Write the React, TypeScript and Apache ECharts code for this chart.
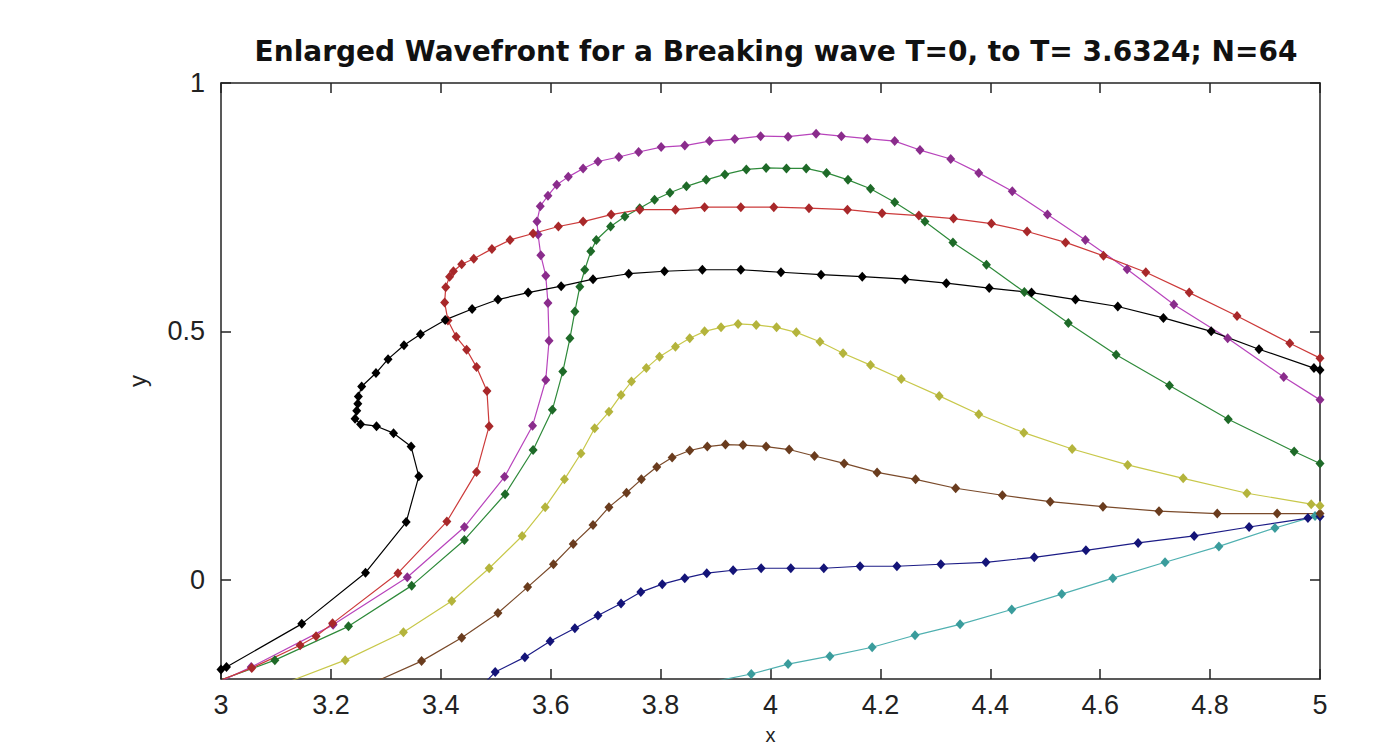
import React, { useEffect, useRef } from "react";
import * as echarts from "echarts";

type P = [number, number];

const titleText = "Enlarged Wavefront for a Breaking wave T=0, to T= 3.6324; N=64";
const xTicks = [3, 3.2, 3.4, 3.6, 3.8, 4, 4.2, 4.4, 4.6, 4.8, 5];
const yTicks = [0, 0.5, 1];

const cyan: P[] = [
  [3.897, -0.205], [3.965, -0.19], [4.032, -0.17], [4.108, -0.154], [4.185, -0.136],
  [4.263, -0.112], [4.345, -0.09], [4.439, -0.06], [4.53, -0.029], [4.623, 0.003],
  [4.718, 0.035], [4.816, 0.067], [4.918, 0.104], [4.991, 0.128],
];

const navy: P[] = [
  [3.484, -0.203], [3.499, -0.186], [3.553, -0.156], [3.599, -0.124], [3.644, -0.098],
  [3.686, -0.072], [3.728, -0.048], [3.764, -0.025], [3.803, -0.009], [3.844, 0.003],
  [3.884, 0.013], [3.932, 0.019], [3.983, 0.023], [4.037, 0.023], [4.097, 0.023],
  [4.163, 0.027], [4.23, 0.027], [4.31, 0.031], [4.392, 0.035], [4.48, 0.045],
  [4.574, 0.059], [4.669, 0.074], [4.771, 0.088], [4.871, 0.106], [4.978, 0.124],
  [5.0, 0.127],
];

const brown: P[] = [
  [3.286, -0.203], [3.365, -0.164], [3.438, -0.117], [3.504, -0.067], [3.558, -0.015],
  [3.605, 0.031], [3.641, 0.072], [3.677, 0.11], [3.706, 0.146], [3.738, 0.175],
  [3.765, 0.202], [3.793, 0.227], [3.821, 0.246], [3.853, 0.26], [3.885, 0.268],
  [3.918, 0.272], [3.95, 0.271], [3.992, 0.268], [4.034, 0.262], [4.08, 0.249],
  [4.134, 0.234], [4.194, 0.216], [4.264, 0.202], [4.337, 0.184], [4.422, 0.17],
  [4.509, 0.157], [4.605, 0.147], [4.707, 0.138], [4.813, 0.133], [4.922, 0.133],
  [5.0, 0.133],
];

const yellow: P[] = [
  [3.129, -0.203], [3.226, -0.162], [3.332, -0.106], [3.42, -0.043], [3.488, 0.023],
  [3.548, 0.088], [3.59, 0.146], [3.625, 0.202], [3.655, 0.254], [3.68, 0.305],
  [3.706, 0.338], [3.728, 0.372], [3.747, 0.399], [3.774, 0.426], [3.798, 0.449],
  [3.827, 0.469], [3.853, 0.486], [3.88, 0.5], [3.91, 0.508], [3.941, 0.515],
  [3.974, 0.513], [4.011, 0.508], [4.047, 0.498], [4.09, 0.479], [4.132, 0.456],
  [4.182, 0.432], [4.238, 0.404], [4.307, 0.37], [4.379, 0.333], [4.461, 0.296],
  [4.549, 0.263], [4.65, 0.231], [4.751, 0.204], [4.867, 0.174], [4.984, 0.152],
  [5.0, 0.149],
];

const green: P[] = [
  [3.002, -0.201], [3.098, -0.162], [3.232, -0.094], [3.347, -0.012], [3.443, 0.08],
  [3.517, 0.172], [3.568, 0.261], [3.603, 0.342], [3.622, 0.419], [3.635, 0.486],
  [3.644, 0.54], [3.653, 0.59], [3.662, 0.624], [3.673, 0.661], [3.683, 0.684],
  [3.709, 0.711], [3.735, 0.731], [3.762, 0.748], [3.789, 0.765], [3.817, 0.779],
  [3.847, 0.792], [3.883, 0.805], [3.917, 0.816], [3.956, 0.826], [3.992, 0.829],
  [4.029, 0.828], [4.065, 0.828], [4.102, 0.819], [4.141, 0.805], [4.182, 0.787],
  [4.226, 0.76], [4.281, 0.721], [4.332, 0.679], [4.393, 0.634], [4.462, 0.579],
  [4.542, 0.517], [4.629, 0.453], [4.726, 0.391], [4.833, 0.323], [4.953, 0.258],
  [5.0, 0.234],
];

const magenta: P[] = [
  [3.002, -0.203], [3.055, -0.176], [3.204, -0.091], [3.339, 0.005], [3.443, 0.106],
  [3.516, 0.207], [3.567, 0.31], [3.591, 0.402], [3.597, 0.481], [3.595, 0.557],
  [3.591, 0.612], [3.582, 0.653], [3.577, 0.695], [3.575, 0.721], [3.581, 0.752],
  [3.595, 0.773], [3.611, 0.795], [3.632, 0.811], [3.659, 0.828], [3.686, 0.842],
  [3.724, 0.851], [3.76, 0.861], [3.801, 0.871], [3.844, 0.874], [3.889, 0.883],
  [3.935, 0.887], [3.982, 0.893], [4.032, 0.892], [4.083, 0.898], [4.129, 0.893],
  [4.176, 0.888], [4.226, 0.883], [4.272, 0.865], [4.328, 0.847], [4.379, 0.819],
  [4.44, 0.782], [4.504, 0.735], [4.573, 0.684], [4.649, 0.625], [4.734, 0.554],
  [4.832, 0.486], [4.934, 0.408], [5.0, 0.362],
];

const red: P[] = [
  [3.002, -0.201], [3.056, -0.178], [3.144, -0.132], [3.173, -0.114], [3.203, -0.088],
  [3.322, 0.013], [3.411, 0.117], [3.465, 0.217], [3.488, 0.309], [3.484, 0.38],
  [3.465, 0.428], [3.447, 0.463], [3.428, 0.489], [3.413, 0.522], [3.407, 0.558],
  [3.409, 0.589], [3.416, 0.61], [3.423, 0.621], [3.438, 0.635], [3.46, 0.646],
  [3.493, 0.666], [3.526, 0.684], [3.568, 0.697], [3.614, 0.711], [3.659, 0.721],
  [3.71, 0.735], [3.762, 0.745], [3.827, 0.745], [3.88, 0.75], [3.946, 0.75],
  [4.006, 0.75], [4.07, 0.748], [4.14, 0.745], [4.203, 0.738], [4.27, 0.733],
  [4.333, 0.727], [4.402, 0.717], [4.467, 0.701], [4.537, 0.679], [4.606, 0.652],
  [4.683, 0.619], [4.762, 0.578], [4.849, 0.531], [4.945, 0.476], [5.0, 0.446],
];

const black: P[] = [
  [3.0, -0.181], [3.01, -0.176], [3.147, -0.089], [3.263, 0.014], [3.337, 0.116],
  [3.36, 0.208], [3.346, 0.268], [3.314, 0.295], [3.283, 0.309], [3.254, 0.313],
  [3.244, 0.324], [3.247, 0.34], [3.249, 0.354], [3.25, 0.369], [3.256, 0.389],
  [3.282, 0.416], [3.304, 0.444], [3.333, 0.472], [3.363, 0.494], [3.408, 0.523],
  [3.457, 0.545], [3.504, 0.564], [3.559, 0.578], [3.619, 0.591], [3.677, 0.605],
  [3.742, 0.616], [3.807, 0.621], [3.876, 0.624], [3.946, 0.624], [4.019, 0.619],
  [4.092, 0.614], [4.167, 0.61], [4.245, 0.605], [4.32, 0.597], [4.398, 0.587],
  [4.475, 0.578], [4.555, 0.564], [4.632, 0.55], [4.715, 0.527], [4.802, 0.5],
  [4.889, 0.464], [4.989, 0.426], [5.0, 0.422],
];

const curves: { name: string; data: P[]; line: string; marker: string }[] = [
  { name: "cyan", data: cyan, line: "#4fb0b0", marker: "#3a9c9c" },
  { name: "navy", data: navy, line: "#1c1c86", marker: "#141478" },
  { name: "brown", data: brown, line: "#7a4a2a", marker: "#6a3c1e" },
  { name: "yellow", data: yellow, line: "#c8c84a", marker: "#b4b43c" },
  { name: "green", data: green, line: "#2e8a3a", marker: "#1e6a28" },
  { name: "magenta", data: magenta, line: "#b844bc", marker: "#8a2c8c" },
  { name: "red", data: red, line: "#cc3a3a", marker: "#a8282a" },
  { name: "black", data: black, line: "#000000", marker: "#000000" },
];

const fmt = (v: number) => String(+v.toFixed(2));

export default function App() {
  const ref = useRef<HTMLDivElement>(null);
  useEffect(() => {
    if (!ref.current) return;
    const chart = echarts.init(ref.current, null, { renderer: "svg" });
    const axisLine = { show: true, onZero: false, lineStyle: { color: "#222", width: 1.5 } };
    const tick = { show: true, inside: true, length: 10, lineStyle: { color: "#222", width: 1.5 } };
    const labelFont = { fontFamily: "Liberation Sans", fontSize: 27, color: "#222" };
    chart.setOption({
      animation: false,
      backgroundColor: "#fff",
      title: {
        text: titleText,
        left: 771,
        textAlign: "center",
        top: 32,
        textStyle: { fontFamily: "DejaVu Sans", fontWeight: "bold", fontSize: 28, color: "#111" },
      },
      grid: { left: 221, right: 70, top: 83, bottom: 70, containLabel: false, outerBoundsMode: "none" },
      xAxis: [
        {
          type: "value", min: 3, max: 5, interval: 0.2, position: "bottom",
          axisLine, axisTick: tick, splitLine: { show: false },
          axisLabel: { ...labelFont, margin: 12, formatter: fmt, showMinLabel: true, showMaxLabel: true },
          name: "x", nameLocation: "middle", nameGap: 46,
          nameTextStyle: { fontFamily: "Liberation Sans", fontSize: 20, color: "#222" },
        },
        {
          type: "value", min: 3, max: 5, interval: 0.2, position: "top",
          axisLine, axisTick: tick, splitLine: { show: false }, axisLabel: { show: false },
        },
      ],
      yAxis: [
        {
          type: "value", min: -0.2, max: 1, position: "left",
          axisLine, splitLine: { show: false },
          axisTick: { ...tick, customValues: yTicks },
          axisLabel: { ...labelFont, margin: 16, customValues: yTicks, formatter: fmt },
          name: "y", nameLocation: "middle", nameGap: 72, nameRotate: 90,
          nameTextStyle: { fontFamily: "Liberation Sans", fontSize: 24, color: "#222" },
        },
        {
          type: "value", min: -0.2, max: 1, position: "right",
          axisLine, splitLine: { show: false },
          axisTick: { ...tick, customValues: yTicks },
          axisLabel: { show: false },
        },
      ],
      series: curves.map((c) => ({
        name: c.name,
        type: "line",
        xAxisIndex: 0,
        yAxisIndex: 0,
        data: c.data,
        smooth: false,
        clip: true,
        symbol: "diamond",
        symbolSize: [9, 10],
        showSymbol: true,
        showAllSymbol: true,
        lineStyle: { color: c.line, width: 1.2 },
        itemStyle: { color: c.marker },
        emphasis: { disabled: true },
      })),
    });
    return () => chart.dispose();
  }, []);
  return (
    <div
      ref={ref}
      style={{ position: "fixed", left: 0, top: 0, width: 1390, height: 749, background: "#fff" }}
    />
  );
}
